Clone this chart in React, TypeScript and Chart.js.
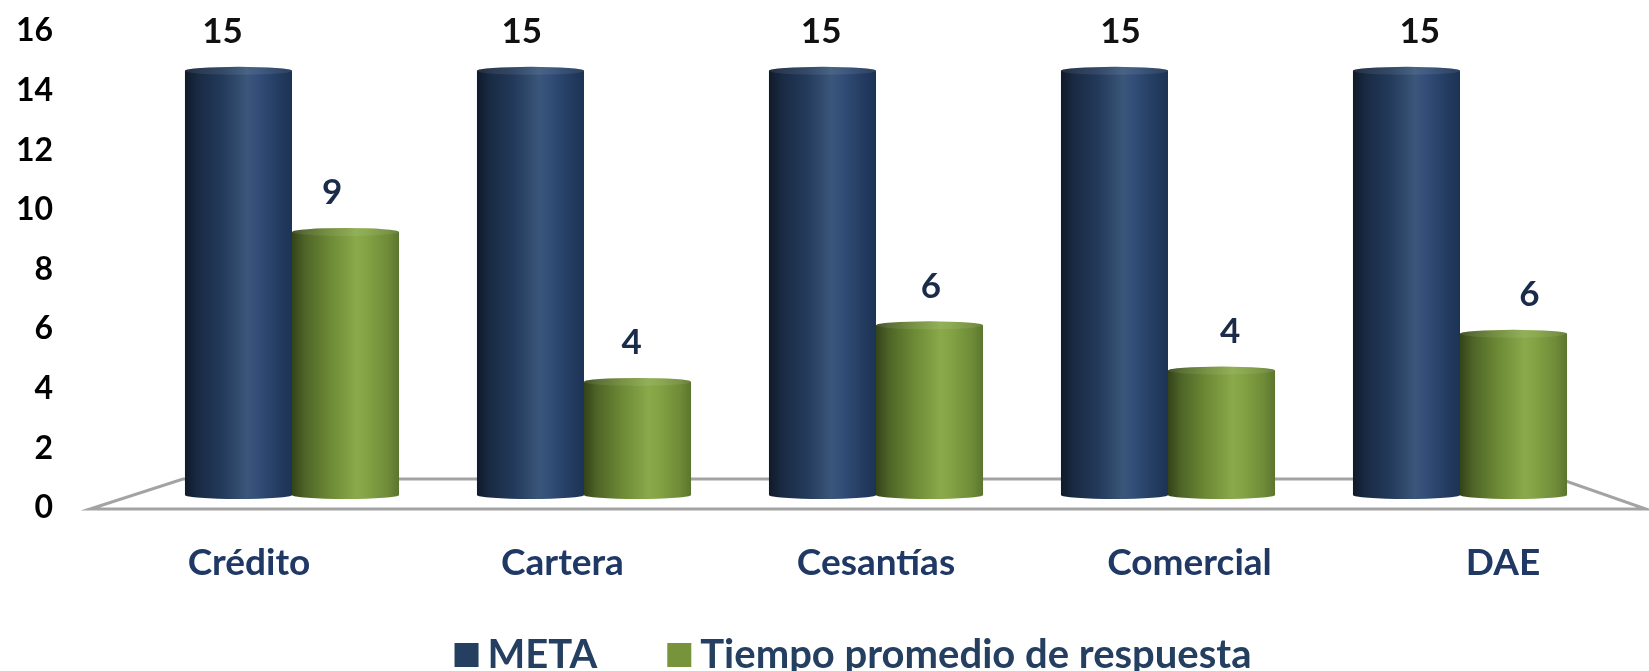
import React, { useEffect, useRef } from 'react';
import { Chart, registerables } from 'chart.js';

Chart.register(...registerables);

const categories = ['Crédito', 'Cartera', 'Cesantías', 'Comercial', 'DAE'];
const seriesNames = ['META', 'Tiempo promedio de respuesta'];
const metaValues = [15, 15, 15, 15, 15];
const tiempoValues = [9.3, 4.0, 6.0, 4.4, 5.7];
const yTickStep = 2;
const yMin = 0;
const yMax = 16;

const FONT = 'Lato, "Noto Sans", sans-serif';
const NAVY = '#1f3864';

const gradStops: Array<Array<[number, string]>> = [
  [
    [0, '#101a29'],
    [0.12, '#192a43'],
    [0.35, '#233a5b'],
    [0.58, '#3a5679'],
    [0.66, '#34507a'],
    [0.86, '#243d62'],
    [1, '#1c3355'],
  ],
  [
    [0, '#33431a'],
    [0.12, '#4e6427'],
    [0.35, '#6c8935'],
    [0.6, '#89a94b'],
    [0.7, '#83a344'],
    [0.9, '#6e8b37'],
    [1, '#5b752f'],
  ],
];
const swatchColors = ['#243f60', '#77933c'];
const labelColors = ['#111111', '#1b2b4a'];

const floorPlugin = {
  id: 'floor',
  beforeDatasetsDraw(chart: any) {
    const ca = chart.chartArea;
    const ctx = chart.ctx;
    const fy = ca.bottom + 1;
    const by = ca.bottom - 29;
    ctx.save();
    ctx.strokeStyle = '#a3a3a3';
    ctx.lineWidth = 3;
    ctx.beginPath();
    ctx.moveTo(ca.left - 56, fy);
    ctx.lineTo(ca.right + 40, fy);
    ctx.lineTo(ca.right - 46, by);
    ctx.lineTo(ca.left + 37, by);
    ctx.closePath();
    ctx.stroke();
    ctx.restore();
  },
};

const cylinderPlugin = {
  id: 'cylinders',
  afterDatasetsDraw(chart: any) {
    const ctx = chart.ctx;
    const metas = chart.data.datasets.map((_: any, i: number) => chart.getDatasetMeta(i));
    const n = chart.data.labels.length;
    const mid = (chart.chartArea.left + chart.chartArea.right) / 2;
    for (let j = 0; j < n; j++) {
      metas.forEach((meta: any, di: number) => {
        const el = meta.data[j];
        if (!el) return;
        const { x, y, base, width } = el.getProps(['x', 'y', 'base', 'width'], true);
        const l = x - width / 2;
        const r = x + width / 2;
        const g = ctx.createLinearGradient(l, 0, r, 0);
        gradStops[di].forEach(([o, c]) => g.addColorStop(o, c));
        const ry = 4;
        ctx.save();
        ctx.fillStyle = g;
        ctx.beginPath();
        ctx.moveTo(l, y);
        ctx.lineTo(l, base);
        ctx.ellipse(x, base, width / 2, ry, 0, Math.PI, 0, true);
        ctx.lineTo(r, y);
        ctx.closePath();
        ctx.fill();
        ctx.beginPath();
        ctx.ellipse(x, y, width / 2, ry, 0, 0, Math.PI * 2);
        ctx.fill();
        ctx.fillStyle = 'rgba(255,255,255,0.08)';
        ctx.fill();
        ctx.restore();
      });
    }
    ctx.save();
    ctx.font = `bold 35px ${FONT}`;
    ctx.textAlign = 'center';
    ctx.textBaseline = 'middle';
    metas.forEach((meta: any, di: number) => {
      const data = chart.data.datasets[di].data;
      meta.data.forEach((el: any, j: number) => {
        const { x, y } = el.getProps(['x', 'y'], true);
        ctx.fillStyle = labelColors[di];
        ctx.fillText(String(Math.round(data[j])), x + (x - mid) * 0.025, y - 39);
      });
    });
    ctx.restore();
  },
};

const legendPlugin = {
  id: 'customLegend',
  afterDraw(chart: any) {
    const ctx = chart.ctx;
    const ca = chart.chartArea;
    ctx.save();
    ctx.font = `bold 40px ${FONT}`;
    ctx.textBaseline = 'middle';
    const box = 24;
    const gapText = 9;
    const gapItem = 70;
    const items = chart.data.datasets.map((d: any, i: number) => ({
      text: d.label,
      color: swatchColors[i],
      w: ctx.measureText(d.label).width,
    }));
    const total = items.reduce((s: number, it: any) => s + box + gapText + it.w, 0) + gapItem * (items.length - 1);
    let xPos = (ca.left + ca.right) / 2 - 23 - total / 2;
    const yc = 655;
    items.forEach((it: any) => {
      ctx.fillStyle = it.color;
      ctx.fillRect(xPos, yc - box / 2, box, box);
      xPos += box + gapText;
      ctx.fillStyle = '#243f60';
      ctx.fillText(it.text, xPos, yc);
      xPos += it.w + gapItem;
    });
    ctx.restore();
  },
};

export default function App() {
  const ref = useRef<HTMLCanvasElement | null>(null);
  useEffect(() => {
    document.body.style.margin = '0';
    if (!ref.current) return;
    const chart = new Chart(ref.current, {
      type: 'bar',
      data: {
        labels: categories,
        datasets: [
          {
            label: seriesNames[0],
            data: metaValues,
            backgroundColor: swatchColors[0],
            borderWidth: 0,
            xAxisID: 'x',
            yAxisID: 'yBar',
            categoryPercentage: 0.733,
            barPercentage: 1,
          },
          {
            label: seriesNames[1],
            data: tiempoValues,
            backgroundColor: swatchColors[1],
            borderWidth: 0,
            xAxisID: 'x',
            yAxisID: 'yBar',
            categoryPercentage: 0.733,
            barPercentage: 1,
          },
        ],
      },
      options: {
        responsive: false,
        animation: false,
        layout: { padding: { top: 31, right: 43, bottom: 93, left: 0 } },
        plugins: { legend: { display: false }, tooltip: { enabled: false } },
        scales: {
          x: { type: 'category', display: false, offset: true },
          xLab: {
            type: 'linear',
            position: 'bottom',
            offset: false,
            min: -0.3285,
            max: 4.3285,
            afterBuildTicks: (s: any) => {
              s.ticks = categories.map((_, i) => ({ value: i }));
            },
            afterFit: (s: any) => {
              s.height = 70;
              s.paddingLeft = 0;
              s.paddingRight = 0;
            },
            grid: { display: false, drawTicks: false, offset: false },
            border: { display: false },
            ticks: {
              autoSkip: false,
              maxRotation: 0,
              padding: 33,
              color: NAVY,
              font: { family: FONT, size: 37, weight: 'bold' },
              callback: (v: any) => categories[v as number] ?? '',
            },
          },
          y: {
            type: 'linear',
            position: 'left',
            min: yMin,
            max: yMax,
            afterFit: (s: any) => {
              s.width = 146;
              s.paddingTop = 0;
              s.paddingBottom = 0;
            },
            grid: { display: false, drawTicks: false },
            border: { display: false },
            ticks: {
              stepSize: yTickStep,
              padding: 93,
              color: '#000000',
              font: { family: FONT, size: 32, weight: 'bold' },
            },
          },
          yBar: { type: 'linear', display: false, min: -0.46, max: 16.41 },
        },
      } as any,
      plugins: [floorPlugin, cylinderPlugin, legendPlugin],
    });
    return () => chart.destroy();
  }, []);
  return <canvas ref={ref} width={1649} height={671} style={{ display: 'block' }} />;
}
